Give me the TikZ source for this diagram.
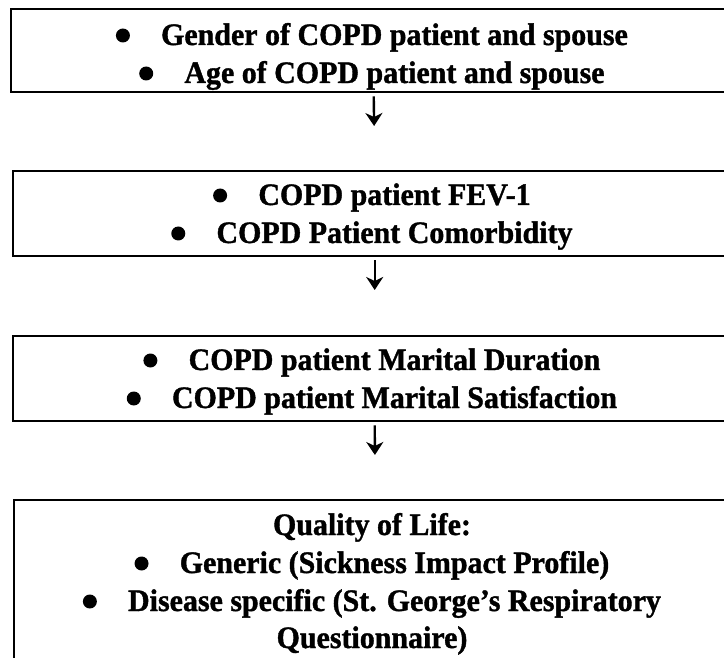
\documentclass[tikz,border=0pt]{standalone}
\usepackage{fontspec}
\setmainfont{Liberation Serif}
\newfontfamily\heavyserif[FakeBold=1.2,FakeStretch=0.96]{Liberation Serif Bold}
\usetikzlibrary{arrows.meta}
\begin{document}
\begin{tikzpicture}[x=1pt,y=-1pt,
  box/.style={draw, line width=2.4pt, inner sep=0pt, anchor=north west},
  txt/.style={anchor=base, inner sep=0pt, font=\fontsize{31.2}{36}\heavyserif},
  bul/.style={fill, circle, minimum size=14pt, inner sep=0pt},
  arr/.style={line width=2.4pt, shorten <=3pt, -{Stealth[length=13pt,width=17pt,inset=4pt]}}]
\useasboundingbox (0,0) rectangle (724,658);
\clip (0,0) rectangle (724,658);
% boxes
\node[box, minimum width=725pt, minimum height=83pt] (b1) at (10,8) {};
\node[box, minimum width=723pt, minimum height=85pt] (b2) at (12,170) {};
\node[box, minimum width=723pt, minimum height=85pt] (b3) at (12,335) {};
\node[box, minimum width=722pt, minimum height=190pt] (b4) at (13,499) {};
% box 1
\node[txt] (t11) at (394.5,45) {Gender of COPD patient and spouse};
\node[txt] (t12) at (394.5,83) {Age of COPD patient and spouse};
% box 2
\node[txt] (t21) at (394.5,205) {COPD patient FEV-1};
\node[txt] (t22) at (394.5,243) {COPD Patient Comorbidity};
% box 3
\node[txt] (t31) at (394.5,370) {COPD patient Marital Duration};
\node[txt] (t32) at (394.5,408) {COPD patient Marital Satisfaction};
% box 4
\node[txt] (t40) at (372,535) {Quality of Life:};
\node[txt] (t41) at (394.5,573) {Generic (Sickness Impact Profile)};
\node[txt] (t42) at (394.5,611) {Disease specific (St. George’s Respiratory};
\node[txt] (t43) at (372,648) {Questionnaire)};
% bullets
\foreach \t in {t11,t12,t21,t22,t31,t32,t41,t42}
  \node[bul] at ([xshift=-38pt,yshift=9.5pt]\t.base west) {};
% arrows
\draw[arr, shorten >=44pt] (b1.south) -- (b2.north);
\draw[arr, shorten >=45pt] (b2.south) -- (b3.north);
\draw[arr, shorten >=44pt] (b3.south) -- (b4.north);
\end{tikzpicture}
\end{document}
